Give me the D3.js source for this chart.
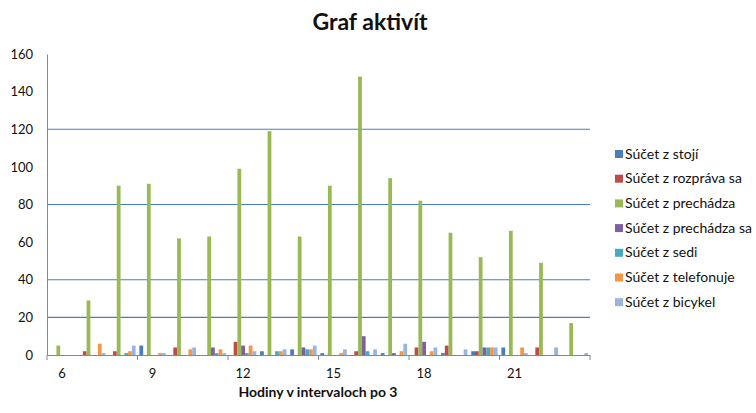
<!DOCTYPE html>
<html>
<head>
<meta charset="utf-8">
<script src="https://cdn.jsdelivr.net/npm/d3@7"></script>
<style>
  body { margin: 0; background: #fff; }
  svg text { font-family: Lato, "Liberation Sans", sans-serif; fill: #111; }
</style>
</head>
<body>
<div id="chart"></div>
<script>
// hours (categories) and one array per series
const hours = [6, 7, 8, 9, 10, 11, 12, 13, 14, 15, 16, 17, 18, 19, 20, 21, 22, 23];
const stoji       = [0, 0, 0, 5, 0, 0, 0, 2, 3, 1, 0, 1, 0, 1, 2, 4, 0, 0];
const rozprava    = [0, 2, 2, 0, 4, 0, 7, 0, 0, 0, 2, 0, 4, 5, 2, 0, 4, 0];
const prechadza   = [5, 29, 90, 91, 62, 63, 99, 119, 63, 90, 148, 94, 82, 65, 52, 66, 49, 17];
const prechadzaSa = [0, 0, 0, 0, 0, 4, 5, 0, 4, 0, 10, 1, 7, 0, 4, 0, 0, 0];
const sedi        = [0, 0, 1, 0, 0, 1, 1, 2, 3, 0, 2, 0, 0, 0, 4, 0, 0, 0];
const telefonuje  = [0, 6, 2, 1, 3, 3, 5, 2, 3, 1, 0, 2, 2, 0, 4, 4, 0, 0];
const bicykel     = [0, 1, 5, 1, 4, 1, 2, 3, 5, 3, 3, 6, 4, 3, 4, 1, 4, 1];

const seriesNames = ['Súčet z stojí', 'Súčet z rozpráva sa', 'Súčet z prechádza',
  'Súčet z prechádza sa', 'Súčet z sedi', 'Súčet z telefonuje', 'Súčet z bicykel'];
const seriesValues = [stoji, rozprava, prechadza, prechadzaSa, sedi, telefonuje, bicykel];
const colors = ['#4a7ebb', '#be4b48', '#98b954', '#7d60a0', '#46aac5', '#f79646', '#9ab5db'];

const yTicks = [0, 20, 40, 60, 80, 100, 120, 140, 160];
const gridValues = [20, 40, 80, 120];
const xLabels = [6, 9, 12, 15, 18, 21];

const w = 756, h = 413;
const plotL = 47, plotR = 590, plotT = 54, plotB = 355;

const svg = d3.select('#chart').append('svg')
  .attr('width', w)
  .attr('height', h);

const x = d3.scaleBand().domain(hours).range([plotL, plotR]).paddingInner(0).paddingOuter(0);
const xs = d3.scaleBand().domain(d3.range(seriesNames.length)).range([0, x.bandwidth()])
  .paddingInner(0).paddingOuter(0.5);
const y = d3.scaleLinear().domain([0, 160]).range([plotB, plotT]);

//grid lines
svg.append('g').selectAll('line').data(gridValues).join('line')
  .attr('x1', plotL).attr('x2', plotR)
  .attr('y1', d => y(d)).attr('y2', d => y(d))
  .attr('stroke', '#4a7ebb').attr('stroke-width', 1.2);

//bars
const rows = hours.map((hr, i) => ({hr, vals: seriesValues.map(s => s[i])}));
const groups = svg.append('g').selectAll('g').data(rows).join('g')
  .attr('transform', d => `translate(${x(d.hr)},0)`);
groups.selectAll('rect').data(d => d.vals.map((v, k) => ({k, v}))).join('rect')
  .attr('x', d => xs(d.k))
  .attr('width', xs.bandwidth())
  .attr('y', d => y(d.v))
  .attr('height', d => y(0) - y(d.v))
  .attr('fill', d => colors[d.k]);

//y axis
const yAxis = svg.append('g')
  .attr('transform', `translate(${plotL},0)`)
  .call(d3.axisLeft(y).tickValues(yTicks).tickSize(0).tickPadding(14));
yAxis.select('.domain').attr('stroke', '#888');
yAxis.selectAll('text').style('font-size', '13px').attr('fill', '#222');

//x axis, labels every 3 hours
const xAxis = svg.append('g')
  .attr('transform', `translate(0,${plotB})`)
  .call(d3.axisBottom(x).tickValues(xLabels).tickSize(0).tickPadding(14));
xAxis.select('.domain').attr('stroke', '#888');
xAxis.selectAll('text').style('font-size', '13px').attr('fill', '#222');

//tick marks at category boundaries every 3
const tickIdx = d3.range(0, hours.length + 1, 3);
svg.append('g').selectAll('line').data(tickIdx).join('line')
  .attr('x1', i => x.range()[0] + i * x.step())
  .attr('x2', i => x.range()[0] + i * x.step())
  .attr('y1', plotB).attr('y2', plotB + 5)
  .attr('stroke', '#888');

//titles
svg.append('text')
  .attr('x', 370).attr('y', 30)
  .attr('text-anchor', 'middle')
  .style('font-size', '23px').style('font-weight', 'bold')
  .text('Graf aktivít');

svg.append('text')
  .attr('x', 318).attr('y', 397)
  .attr('text-anchor', 'middle')
  .style('font-size', '14px').style('font-weight', 'bold')
  .text('Hodiny v intervaloch po 3');

//legend
const legend = svg.append('g').attr('transform', 'translate(615,154)');
const li = legend.selectAll('g').data(seriesNames).join('g')
  .attr('transform', (d, i) => `translate(0,${i * 24.7})`);
li.append('rect')
  .attr('x', 0).attr('y', -4).attr('width', 8).attr('height', 8)
  .attr('fill', (d, i) => colors[i]);
li.append('text')
  .attr('x', 10).attr('y', 4.5)
  .style('font-size', '14px')
  .attr('fill', '#222')
  .text(d => d);
</script>
</body>
</html>
